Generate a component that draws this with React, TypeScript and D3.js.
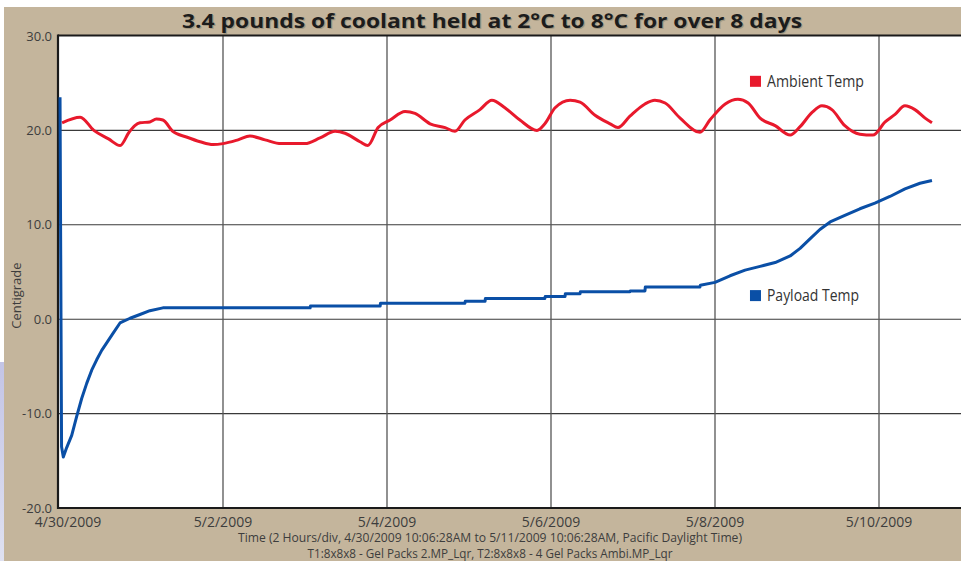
import React from "react";
import * as d3 from "d3";

const W = 961;
const H = 561;

const titleText = "3.4 pounds of coolant held at 2°C to 8°C for over 8 days";
const axisTitleY = "Centigrade";
const axisTitleX1 = "Time (2 Hours/div, 4/30/2009 10:06:28AM to 5/11/2009 10:06:28AM, Pacific Daylight Time)";
const axisTitleX2 = "T1:8x8x8 - Gel Packs 2.MP_Lqr, T2:8x8x8 - 4 Gel Packs Ambi.MP_Lqr";

const xTickHours = [0, 48, 96, 144, 192, 240];
const xTickLabels = ["4/30/2009", "5/2/2009", "5/4/2009", "5/6/2009", "5/8/2009", "5/10/2009"];
const yTicks = [-20, -10, 0, 10, 20, 30];
const yGrid = [-10, 0, 10, 20];

const seriesNames = ["Ambient Temp", "Payload Temp"];
const seriesColors = ["#e8192c", "#0a4fa6"];

// hours since start, °C
const ambientHours = [0.9, 6.2, 10.2, 14.5, 17.9, 20.5, 22.2, 23.7, 26.6, 28.5, 30.4, 33.3, 37.3, 41.3, 45.1, 48.0, 52.4, 55.9, 60.3, 65.0, 67.6, 72.0, 76.4, 80.8, 83.7, 88.1, 90.4, 93.4, 96.9, 101.3, 104.2, 108.6, 113.0, 115.9, 118.8, 123.2, 126.7, 130.5, 134.9, 139.9, 142.2, 145.2, 149.6, 152.5, 156.9, 161.3, 163.6, 167.1, 171.5, 174.4, 177.4, 181.8, 187.6, 190.5, 195.0, 198.7, 201.7, 205.2, 209.6, 214.0, 216.9, 220.4, 223.3, 226.2, 230.0, 234.4, 238.2, 241.8, 244.7, 247.6, 250.5, 253.5, 255.5];
const ambientTemps = [20.8, 21.4, 20.0, 19.1, 18.4, 19.8, 20.5, 20.8, 20.9, 21.2, 21.1, 19.9, 19.3, 18.8, 18.5, 18.6, 19.0, 19.4, 19.0, 18.6, 18.6, 18.6, 19.2, 19.9, 19.7, 18.8, 18.4, 20.3, 21.1, 22.0, 21.8, 20.7, 20.3, 19.9, 21.1, 22.2, 23.2, 22.4, 21.1, 20.0, 20.7, 22.4, 23.2, 23.0, 21.6, 20.7, 20.3, 21.5, 22.8, 23.2, 22.9, 21.3, 19.8, 21.1, 22.8, 23.3, 22.9, 21.3, 20.5, 19.5, 20.4, 21.9, 22.6, 22.2, 20.5, 19.6, 19.5, 20.9, 21.7, 22.6, 22.2, 21.3, 20.8];

const payloadHours = [0.3, 0.75, 1.26, 2.25, 3.72, 5.18, 6.64, 8.11, 9.57, 11.03, 12.5, 13.96, 15.8, 17.85, 20.8, 23.7, 26.6, 30.4, 73.5, 73.6, 94.0, 94.1, 118.8, 118.9, 124.7, 124.8, 142.2, 142.3, 148.1, 148.2, 152.5, 152.6, 167.1, 167.2, 171.5, 171.6, 187.6, 187.7, 192.0, 196.4, 200.8, 205.2, 209.6, 214.0, 216.9, 219.8, 222.7, 225.7, 230.0, 234.4, 238.8, 243.2, 247.6, 252.0, 255.5];
const payloadTemps = [23.5, -13.5, -14.6, -13.6, -12.3, -10.3, -8.4, -6.8, -5.4, -4.3, -3.3, -2.5, -1.5, -0.4, 0.1, 0.5, 0.9, 1.2, 1.2, 1.4, 1.4, 1.7, 1.7, 1.9, 1.9, 2.2, 2.2, 2.4, 2.4, 2.7, 2.7, 2.9, 2.9, 3.0, 3.0, 3.4, 3.4, 3.6, 3.9, 4.6, 5.2, 5.6, 6.0, 6.7, 7.5, 8.5, 9.5, 10.3, 11.0, 11.7, 12.3, 13.0, 13.8, 14.4, 14.7];

// legend anchor positions in data units (hours, °C)
const legendValues = [25.2, 2.5];
const legendHours = [203.7, 203.7];

const plotLeft = 59;
const plotRight = 961;
const plotTop = 36;
const plotBottom = 508;

export default function App() {
  const x = d3.scaleLinear().domain([0, 264]).range([plotLeft, plotRight]);
  const y = d3.scaleLinear().domain([-20, 30]).range([plotBottom, plotTop]);

  const ambientLine = d3
    .line<number>()
    .x((_, i) => x(ambientHours[i]))
    .y((d) => y(d))
    .curve(d3.curveMonotoneX);
  const payloadLine = d3
    .line<number>()
    .x((_, i) => x(payloadHours[i]))
    .y((d) => y(d))
    .curve(d3.curveLinear);

  const font = "'Open Sans', 'Noto Sans', sans-serif";
  const textColor = "#3d3d3d";

  return (
    <svg
      width={W}
      height={H}
      style={{ position: "fixed", left: 0, top: 0, display: "block" }}
      fontFamily={font}
    >
      <defs>
        <linearGradient id="lav" x1="0" y1="0" x2="0" y2="1">
          <stop offset="0" stopColor="#c3c4e6" />
          <stop offset="1" stopColor="#dfe1f1" />
        </linearGradient>
      </defs>
      <rect x={0} y={0} width={W} height={H} fill="#ffffff" />
      <rect x={0} y={362} width={4} height={H - 362} fill="url(#lav)" />
      <rect x={4} y={7} width={W - 4} height={H - 7} fill="#c4b59c" />

      {/* plot area */}
      <rect x={plotLeft} y={plotTop} width={plotRight - plotLeft} height={plotBottom - plotTop} fill="#ffffff" />

      {/* grid */}
      {yGrid.map((v) => (
        <line key={"hy" + v} x1={plotLeft} x2={plotRight} y1={y(v)} y2={y(v)} stroke="#3a3a3a" strokeWidth={1.1} />
      ))}
      {xTickHours.slice(1).map((h) => (
        <line key={"vx" + h} x1={x(h)} x2={x(h)} y1={plotTop} y2={plotBottom} stroke="#555" strokeWidth={1.3} />
      ))}

      {/* border */}
      <line x1={plotLeft - 1} x2={plotRight} y1={plotTop - 0.5} y2={plotTop - 0.5} stroke="#1a1a1a" strokeWidth={2.2} />
      <line x1={plotLeft - 1} x2={plotRight} y1={plotBottom} y2={plotBottom} stroke="#1a1a1a" strokeWidth={2.2} />
      <line x1={plotLeft - 1} x2={plotLeft - 1} y1={plotTop - 1.5} y2={plotBottom + 1} stroke="#1a1a1a" strokeWidth={2.2} />

      {/* series */}
      <path d={ambientLine(ambientTemps) || ""} fill="none" stroke={seriesColors[0]} strokeWidth={3} strokeLinejoin="round" />
      <path d={payloadLine(payloadTemps) || ""} fill="none" stroke={seriesColors[1]} strokeWidth={3} strokeLinejoin="round" />

      {/* y ticks */}
      {yTicks.map((v) => (
        <text key={"yt" + v} x={52} y={y(v)} dy="0.35em" textAnchor="end" fontSize={13} fill={textColor}>
          {v.toFixed(1)}
        </text>
      ))}
      <text
        transform={`translate(21, ${y(2.5)}) rotate(-90)`}
        textAnchor="middle"
        fontSize={13}
        fill={textColor}
      >
        {axisTitleY}
      </text>

      {/* x ticks */}
      {xTickHours.map((h, i) => (
        <text key={"xt" + h} x={x(h) + (i === 0 ? 9 : 0)} y={527} textAnchor="middle" fontSize={14} fill={textColor}>
          {xTickLabels[i]}
        </text>
      ))}
      <text x={490} y={542} textAnchor="middle" fontSize={12.5} fill={textColor} textLength={504} lengthAdjust="spacingAndGlyphs">
        {axisTitleX1}
      </text>
      <text x={490} y={558} textAnchor="middle" fontSize={12.5} fill={textColor} textLength={365} lengthAdjust="spacingAndGlyphs">
        {axisTitleX2}
      </text>

      {/* legend */}
      {seriesNames.map((name, i) => (
        <g key={name}>
          <rect x={x(legendHours[i]) - 5} y={y(legendValues[i]) - 5.5} width={11} height={11} fill={seriesColors[i]} />
          <text x={x(legendHours[i]) + 12} y={y(legendValues[i])} dy="0.36em" fontSize={15.5} fill="#333" textLength={i === 0 ? 97 : 92} lengthAdjust="spacingAndGlyphs">
            {name}
          </text>
        </g>
      ))}

      {/* title */}
      <text x={492} y={28} textAnchor="middle" fontSize={20} fontWeight="bold" fill="#a39880" textLength={620} lengthAdjust="spacingAndGlyphs" transform="translate(1.2,1.2)">
        {titleText}
      </text>
      <text x={492} y={28} textAnchor="middle" fontSize={20} fontWeight="bold" fill="#1c1c1c" textLength={620} lengthAdjust="spacingAndGlyphs">
        {titleText}
      </text>
    </svg>
  );
}
